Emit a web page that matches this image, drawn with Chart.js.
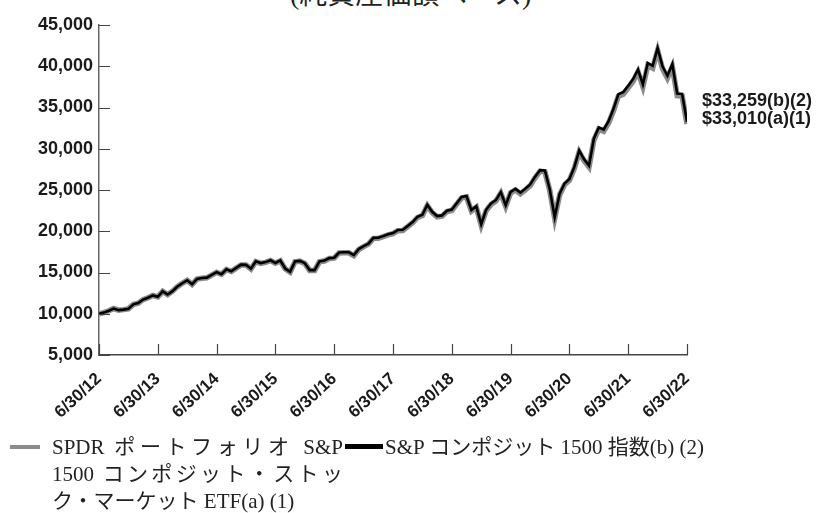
<!DOCTYPE html>
<html>
<head>
<meta charset="utf-8">
<script src="https://cdn.jsdelivr.net/npm/chart.js@4"></script>
<style>
  html,body{margin:0;padding:0;background:#fff;width:821px;height:513px;overflow:hidden;position:relative}
  #wrap{position:absolute;left:0;top:0;width:821px;height:440px}
  #title{position:absolute;top:-28px;left:290px;font:28px "Liberation Serif","Noto Sans CJK JP";color:#222;white-space:nowrap}
  .endlab{position:absolute;left:702px;font:bold 18px "Liberation Sans",Arial,sans-serif;color:#1a1a1a;white-space:nowrap;line-height:20px}
  .leg{position:absolute;font:21px "Liberation Serif","Noto Sans CJK JP",serif;color:#222;line-height:27px;white-space:nowrap}
  .jl{text-align:justify;text-align-last:justify}
  .sw{position:absolute}
</style>
</head>
<body>
<div id="title"></div>
<div id="wrap"><canvas id="c"></canvas></div>
<div class="endlab" id="end0" style="top:90px"></div>
<div class="endlab" id="end1" style="top:108px"></div>
<div class="sw" style="left:10px;top:445px;width:30px;height:4px;background:#8c8c8c"></div>
<div class="leg" id="leg0" style="left:52px;top:434px;width:291px"></div>
<div class="sw" style="left:345px;top:444px;width:38px;height:5px;background:#000"></div>
<div class="leg" id="leg1" style="left:385px;top:434px"></div>
<script>
const $ = id => document.getElementById(id);

const titleText = "(純資産価額ベース)";
const tickLabels = ["6/30/12","6/30/13","6/30/14","6/30/15","6/30/16","6/30/17","6/30/18","6/30/19","6/30/20","6/30/21","6/30/22"];
const endLabels = ["$33,259(b)(2)","$33,010(a)(1)"];
const etfLegend = ["SPDR ポートフォリオ S&P","1500 コンポジット・ストッ","ク・マーケット ETF(a) (1)"];
const indexLegend = "S&P コンポジット 1500 指数(b) (2)";

// 月末値 2012/6 〜 2022/6
const indexValues = [
  10000,10140,10370,10630,10440,10500,10590,
  11140,11290,11720,11940,12220,12060,12720,12330,12740,13300,13700,14060,
  13570,14220,14330,14380,14710,15040,14800,15390,15150,15560,15950,15930,
  15460,16350,16140,16260,16480,16160,16460,15480,15080,16330,16410,16130,
  15290,15290,16350,16440,16740,16790,17420,17450,17450,17110,17840,18190,
  18500,19200,19220,19410,19630,19780,20150,20180,20640,21110,21760,22000,
  23210,22360,21840,21920,22480,22620,23400,24150,24270,22560,23020,20850,
  22600,23370,23780,24740,23150,24770,25130,24680,25160,25670,26620,27410,
  27360,25060,21700,24540,25780,26340,27770,29780,28720,27950,31250,32590,
  32330,33330,34840,36620,36870,37640,38450,39600,37800,40400,40050,42200,
  40000,38850,40250,36700,36650,33259
];
const etfValues = [
  10000,10140,10370,10630,10440,10500,10590,
  11130,11280,11710,11930,12210,12050,12710,12320,12730,13290,13690,14040,
  13550,14200,14310,14360,14690,15020,14780,15360,15120,15530,15920,15900,
  15430,16320,16110,16230,16440,16120,16420,15440,15040,16290,16370,16090,
  15250,15250,16300,16390,16690,16740,17370,17400,17390,17050,17780,18130,
  18440,19130,19150,19340,19560,19710,20070,20100,20560,21030,21670,21910,
  23110,22270,21750,21820,22380,22520,23290,24040,24160,22450,22910,20750,
  22490,23250,23660,24610,23030,24640,25000,24550,25020,25530,26470,27260,
  27200,24920,21570,24400,25630,26180,27600,29600,28540,27780,31050,32380,
  32120,33110,34610,36380,36620,37390,38190,39330,37540,40120,39770,41900,
  39710,38570,39960,36430,36380,33010
];

$("title").textContent = titleText;
$("end0").textContent = endLabels[0];
$("end1").textContent = endLabels[1];
$("leg0").innerHTML = etfLegend.map((t,i)=>`<div class="${i<2?'jl':''}">${t.replace(/&/g,'&amp;')}</div>`).join("");
$("leg1").textContent = indexLegend;

// 内向きの目盛り線
const inwardTicks = {
  id:"inwardTicks",
  afterDraw(chart){
    const {ctx, chartArea:a, scales:{x,y}} = chart;
    ctx.save();
    ctx.strokeStyle="#444";
    ctx.lineWidth=1.2;
    ctx.beginPath();
    y.ticks.forEach(t=>{
      const py=Math.round(y.getPixelForValue(t.value))+0.5;
      ctx.moveTo(a.left,py); ctx.lineTo(a.left+11,py);
    });
    x.ticks.forEach(t=>{
      const px=Math.round(x.getPixelForValue(t.value))+0.5;
      ctx.moveTo(px,a.bottom); ctx.lineTo(px,a.bottom-11);
    });
    ctx.stroke();
    ctx.restore();
  }
};

const pts = arr => arr.map((v,i)=>({x:i,y:v}));

new Chart($("c").getContext("2d"),{
  type:"line",
  data:{
    datasets:[
      {data:pts(indexValues),borderColor:"#000",borderWidth:2.6,pointRadius:0,tension:0,order:0},
      {data:pts(etfValues),borderColor:"#8a8a8a",borderWidth:5.5,pointRadius:0,tension:0,order:1}
    ]
  },
  options:{
    responsive:true,
    maintainAspectRatio:false,
    animation:false,
    layout:{padding:{left:0,right:134,top:25,bottom:0}},
    plugins:{legend:{display:false},tooltip:{enabled:false}},
    scales:{
      x:{
        type:"linear",min:0,max:120,
        afterFit:s=>{s.height=85;},
        grid:{display:true,drawOnChartArea:false,drawTicks:false},
        border:{display:true,color:"#444",width:1.5},
        ticks:{
          stepSize:12,autoSkip:false,maxRotation:43,minRotation:43,padding:14,
          color:"#1a1a1a",font:{family:"Liberation Sans, Arial",size:17,weight:"bold"},
          callback:v=>tickLabels[v/12]
        }
      },
      y:{
        min:5000,max:45000,
        afterFit:s=>{s.width=99;},
        grid:{display:true,drawOnChartArea:false,drawTicks:false},
        border:{display:true,color:"#666",width:1.5},
        ticks:{
          stepSize:5000,padding:6,
          color:"#1a1a1a",font:{family:"Liberation Sans, Arial",size:18,weight:"bold"},
          callback:v=>v.toLocaleString("en-US")
        }
      }
    }
  },
  plugins:[inwardTicks]
});
</script>
</body>
</html>
